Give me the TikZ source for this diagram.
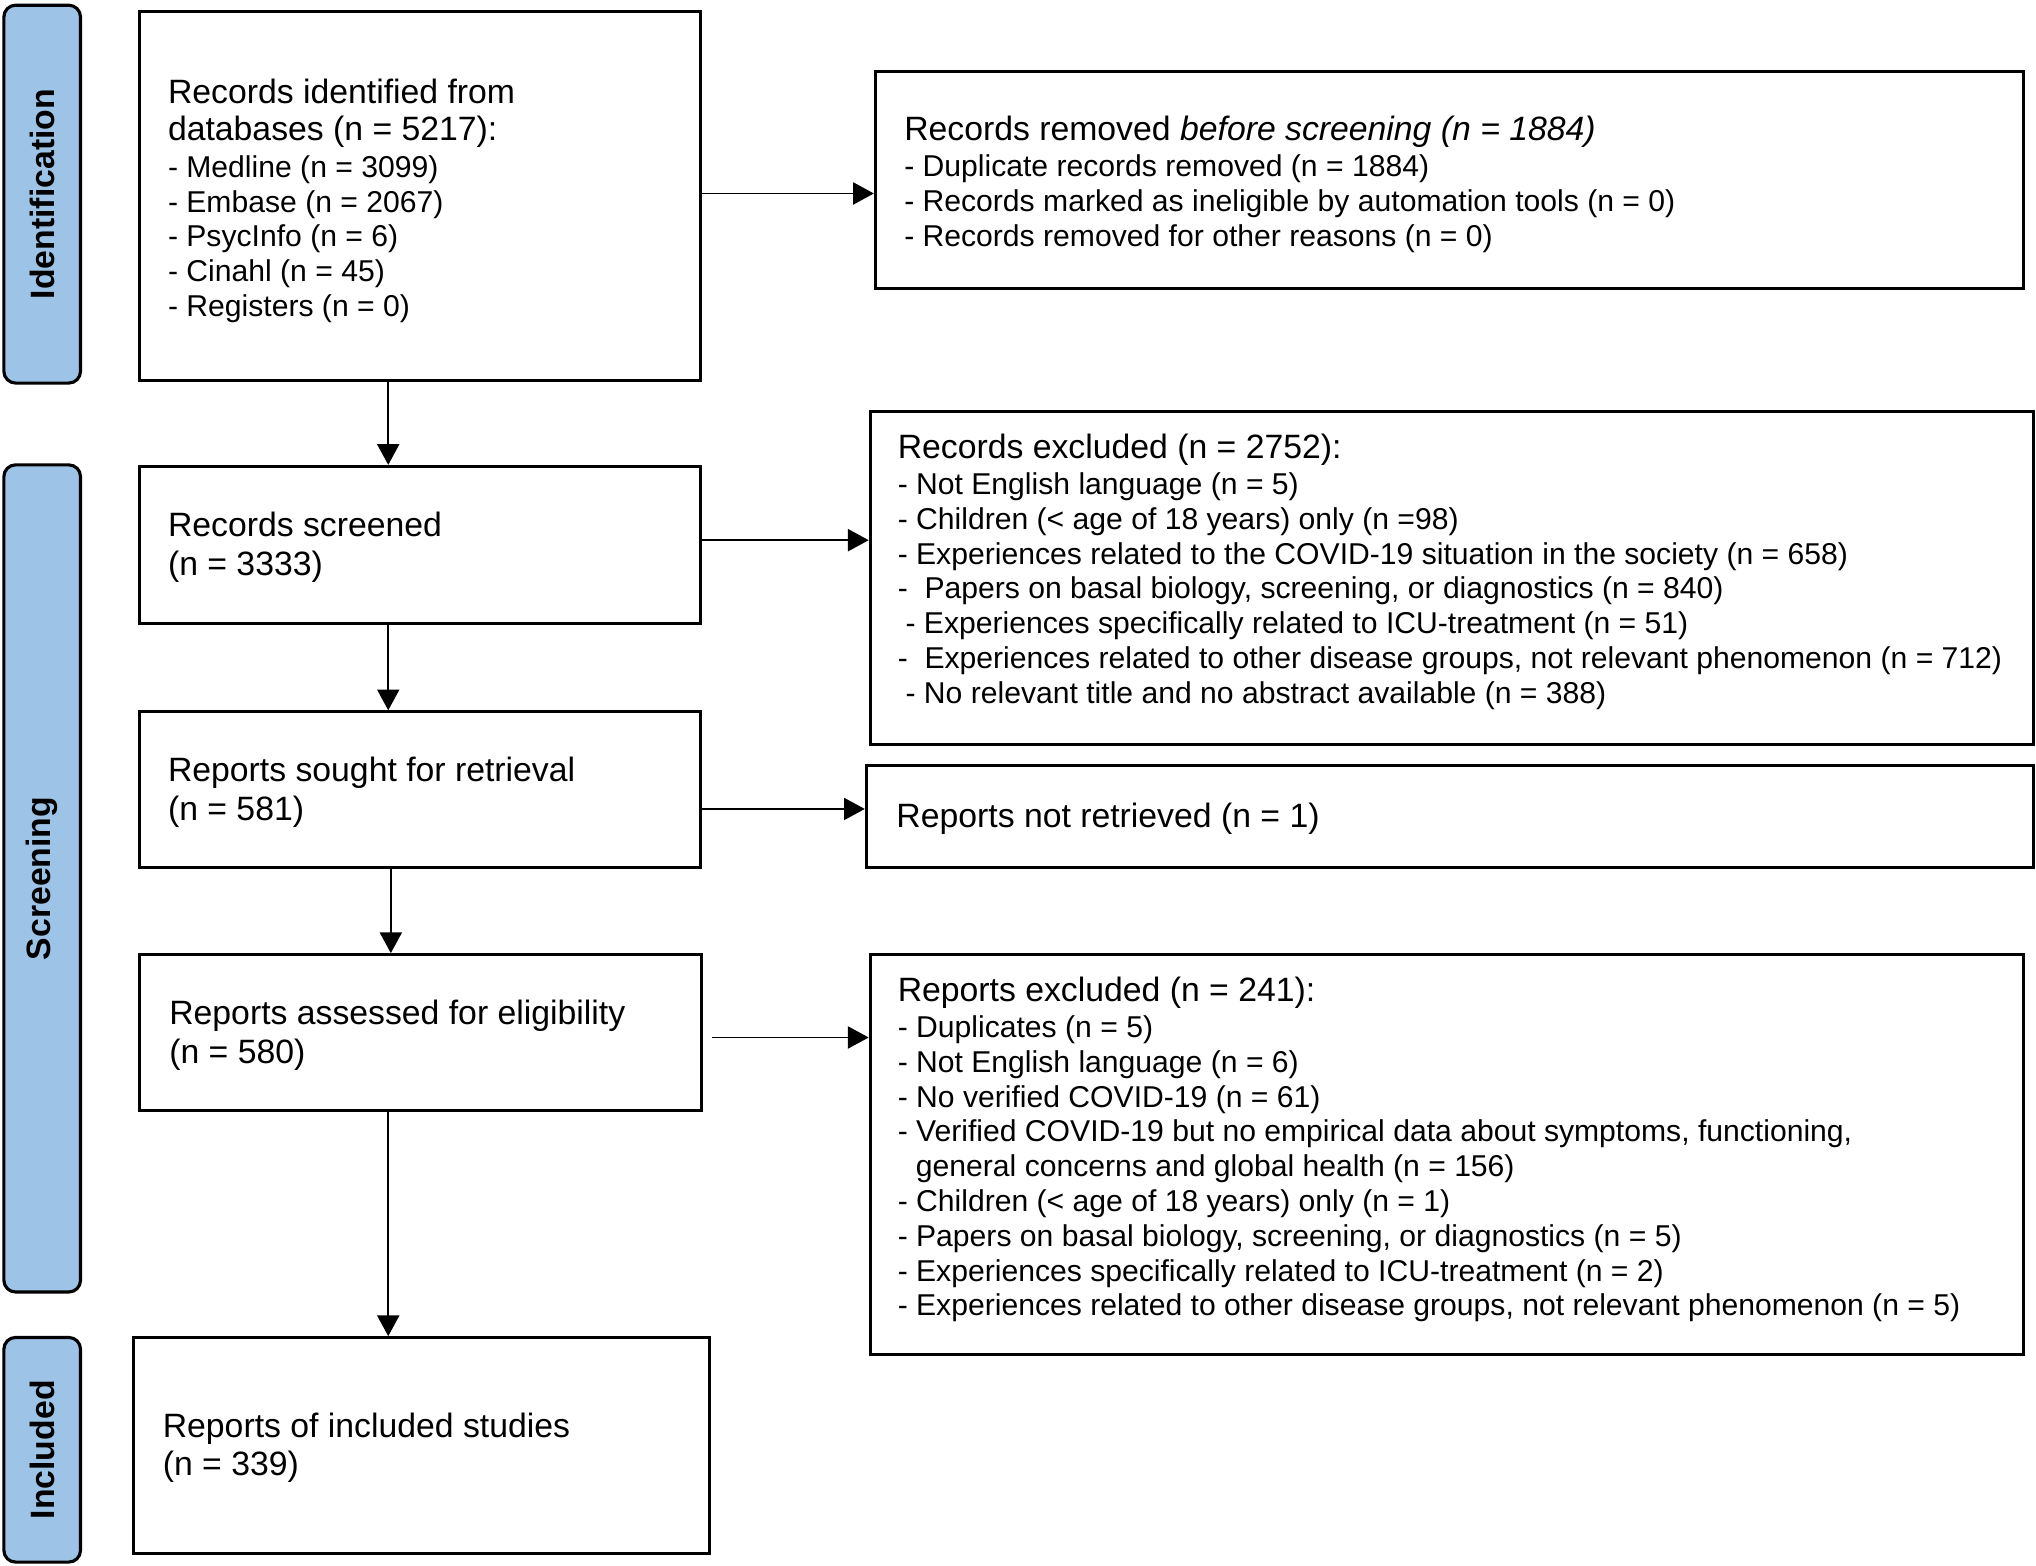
\documentclass[tikz,border=0pt]{standalone}
\usepackage{fontspec}
\usepackage{graphicx}
\setmainfont{Liberation Sans}
\usetikzlibrary{arrows.meta,calc}
\definecolor{barblue}{HTML}{9DC3E6}
\newcommand{\lst}{\fontsize{11.6pt}{13.4pt}\selectfont}
\begin{document}
\begin{tikzpicture}[x=0.5pt,y=-0.5pt,
  box/.style={draw=black, line width=1.15pt, inner sep=0pt, anchor=north west},
  txt/.style={anchor=west, align=left, inner sep=0pt, yshift=-1pt, font=\fontsize{13pt}{13.4pt}\selectfont},
  bar/.style={draw=black, fill=barblue, line width=1.2pt, rounded corners=4.5pt, inner sep=0pt, font=\fontsize{13pt}{15pt}\selectfont\bfseries},
  arr/.style={line width=0.75pt, -{Triangle[width=8.5pt,length=8pt]}}]
\useasboundingbox (0,0) rectangle (1568,1206);

% side bars
\node[bar, minimum width=29.5pt, minimum height=145.5pt] (Lid) at (32.5,149.5) {\rotatebox{90}{Identification}};
\node[bar, minimum width=29.5pt, minimum height=318.5pt] (Lsc) at (32.5,676.5) {\rotatebox{90}{Screening}};
\node[bar, minimum width=29.5pt, minimum height=86.5pt] (Lin) at (32.5,1116.5) {\rotatebox{90}{Included}};

% left column boxes
\node[box, minimum width=216pt, minimum height=142pt] (B1) at (106,8) {};
\node[box, minimum width=216pt, minimum height=60.5pt] (B2) at (106,358) {};
\node[box, minimum width=216pt, minimum height=60pt] (B3) at (106,547) {};
\node[box, minimum width=216.5pt, minimum height=60pt] (B4) at (106,734) {};
\node[box, minimum width=221.5pt, minimum height=83pt] (B5) at (102,1029) {};

% right column boxes
\node[box, minimum width=442pt, minimum height=83.5pt] (R1) at (673,54) {};
\node[box, minimum width=448pt, minimum height=128pt] (R2) at (669,316) {};
\node[box, minimum width=449.5pt, minimum height=39.5pt] (R3) at (666,588) {};
\node[box, minimum width=444pt, minimum height=154pt] (R4) at (669,734) {};

% texts
\node[txt] (B1t) at ([xshift=11.5pt,yshift=-0.75pt]B1.west) {Records identified from\\[1.1pt]
databases (n = 5217):\\[0.6pt]
\lst - Medline (n = 3099)\\
\lst - Embase (n = 2067)\\
\lst - PsycInfo (n = 6)\\
\lst - Cinahl (n = 45)\\
\lst - Registers (n = 0)};
\node[txt] (B2t) at ([xshift=11.5pt]B2.west) {Records screened\\[1.6pt](n = 3333)};
\node[txt] (B3t) at ([xshift=11.5pt]B3.west) {Reports sought for retrieval\\[1.6pt](n = 581)};
\node[txt] (B4t) at ([xshift=12pt]B4.west) {Reports assessed for eligibility\\[1.6pt](n = 580)};
\node[txt] (B5t) at ([xshift=11.5pt]B5.west) {Reports of included studies\\[1.1pt](n = 339)};

\node[txt] (R1t) at ([xshift=11.5pt,yshift=-0.5pt]R1.west) {Records removed \textit{before screening (n = 1884)}\\[0.6pt]
\lst - Duplicate records removed (n = 1884)\\
\lst - Records marked as ineligible by automation tools (n = 0)\\
\lst - Records removed for other reasons (n = 0)};
\node[txt] (R2t) at ([xshift=11pt,yshift=3.5pt]R2.west) {Records excluded (n = 2752):\\[0.6pt]
\lst - Not English language (n = 5)\\
\lst - Children (< age of 18 years) only (n =98)\\
\lst - Experiences related to the COVID-19 situation in the society (n = 658)\\
\lst -\ \ Papers on basal biology, screening, or diagnostics (n = 840)\\
\lst \hspace*{3pt}- Experiences specifically related to ICU-treatment (n = 51)\\
\lst -\ \ Experiences related to other disease groups, not relevant phenomenon (n = 712)\\
\lst \hspace*{3pt}- No relevant title and no abstract available (n = 388)};
\node[txt] (R3t) at ([xshift=12pt]R3.west) {Reports not retrieved (n = 1)};
\node[txt] (R4t) at ([xshift=11pt,yshift=3pt]R4.west) {Reports excluded (n = 241):\\[0.6pt]
\lst - Duplicates (n = 5)\\
\lst - Not English language (n = 6)\\
\lst - No verified COVID-19 (n = 61)\\
\lst - Verified COVID-19 but no empirical data about symptoms, functioning,\\
\lst \hspace*{7pt}general concerns and global health (n = 156)\\
\lst - Children (< age of 18 years) only (n = 1)\\
\lst - Papers on basal biology, screening, or diagnostics (n = 5)\\
\lst - Experiences specifically related to ICU-treatment (n = 2)\\
\lst - Experiences related to other disease groups, not relevant phenomenon (n = 5)};

% connectors
\draw[arr] (B1.south -| 299,0) -- (B2.north -| 299,0);
\draw[arr] (B2.south -| 299,0) -- (B3.north -| 299,0);
\draw[arr] (B3.south -| 301,0) -- (B4.north -| 301,0);
\draw[arr] (B4.south -| 299,0) -- (B5.north -| 299,0);
\draw[arr] (B1.east |- 0,149) -- (R1.west |- 0,149);
\draw[arr] (B2.east |- 0,416) -- (R2.west |- 0,416);
\draw[arr] (B3.east |- 0,623) -- (R3.west |- 0,623);
\draw[arr] ($(B4.east |- 0,799)+(7,0)$) -- (R4.west |- 0,799);
\end{tikzpicture}
\end{document}
